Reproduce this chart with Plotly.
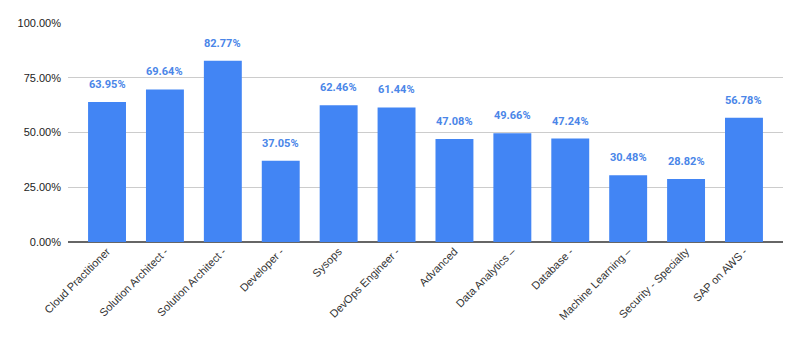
import plotly.graph_objects as go

categories = [
    "Cloud Practitioner", "Solution Architect -", "Solution Architect -",
    "Developer -", "Sysops", "DevOps Engineer -", "Advanced",
    "Data Analytics –", "Database -", "Machine Learning –",
    "Security - Specialty", "SAP on AWS -",
]
values = [63.95, 69.64, 82.77, 37.05, 62.46, 61.44, 47.08, 49.66, 47.24, 30.48, 28.82, 56.78]
y_ticks = [0, 25, 50, 75, 100]

# unique positions so duplicate category names still get their own bar
xpos = list(range(len(categories)))

fig = go.Figure(go.Bar(
    x=xpos, y=values,
    marker=dict(color="#4285f4", line=dict(width=0)),
    width=0.655,
    hoverinfo="skip",
))

for i, v in zip(xpos, values):
    fig.add_annotation(
        x=i, y=v, text=f"{v:.2f}%", showarrow=False,
        yanchor="bottom", yshift=9,
        font=dict(family="Roboto", size=11, color="#4a86e8", weight="bold"),
    )

fig.update_layout(
    width=800, height=342,
    margin=dict(l=68, r=17, t=23, b=100),
    paper_bgcolor="white", plot_bgcolor="white",
    showlegend=False,
    font=dict(family="Arial, Liberation Sans", size=11, color="#222222"),
)
fig.update_xaxes(
    tickmode="array", tickvals=xpos, ticktext=categories,
    tickangle=-45, range=[-0.674, 11.674],
    showgrid=False, zeroline=False, showline=False, ticks="",
    tickfont=dict(family="Arial, Liberation Sans", size=11, color="#333333"),
)
fig.update_yaxes(
    range=[0, 100], tickmode="array", tickvals=y_ticks,
    ticktext=[f"{t:.2f}%" for t in y_ticks],
    showgrid=True, gridcolor="#cccccc", gridwidth=1,
    zeroline=True, zerolinecolor="#666666", zerolinewidth=2,
    ticks="", ticklabelstandoff=6,
    tickfont=dict(family="Arial, Liberation Sans", size=11, color="#222222"),
)

fig.write_html("out.html")
